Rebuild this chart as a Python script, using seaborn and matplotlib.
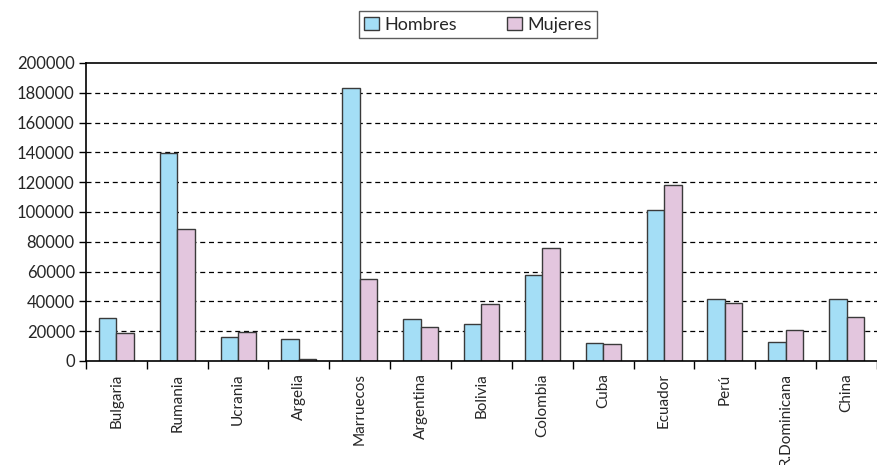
import numpy as np
import pandas as pd
import matplotlib
matplotlib.use("Agg")
import matplotlib.pyplot as plt
import seaborn as sns

paises = ['Bulgaria', 'Rumania', 'Ucrania', 'Argelia', 'Marruecos', 'Argentina',
          'Bolivia', 'Colombia', 'Cuba', 'Ecuador', 'Perú', 'R.Dominicana', 'China']
hombres = [29000, 139500, 16000, 14500, 183000, 28500, 24500, 57500, 12000, 101000, 41500, 12500, 41500]
mujeres = [19000, 88500, 19500, 1500, 55000, 23000, 38000, 75500, 11500, 118000, 39000, 21000, 29500]
series = ['Hombres', 'Mujeres']
colores = ['#A4DEF6', '#E3C6DE']

df = pd.DataFrame({
    'pais': paises * 2,
    'valor': hombres + mujeres,
    'sexo': [series[0]] * len(paises) + [series[1]] * len(paises),
})

sns.set_style('white')
plt.rcParams['font.family'] = ['Lato', 'DejaVu Sans']

fig = plt.figure(figsize=(8.77, 4.65), dpi=100)
ax = fig.add_axes([0.098, 0.2237, 0.902, 0.641])

sns.barplot(data=df, x='pais', y='valor', hue='sexo', palette=colores,
            width=0.575, edgecolor='#3a3a3a', linewidth=1.0, ax=ax,
            saturation=1, legend=False)

ax.set_ylim(0, 200000)
ax.set_xlim(-0.5, len(paises) - 0.5)
ax.set_yticks(np.arange(0, 200001, 20000))
ax.set_yticklabels([str(v) for v in range(0, 200001, 20000)], fontsize=12)
for v in range(20000, 200000, 20000):
    ax.axhline(v, color='black', lw=0.9, linestyle=(0, (4, 3)), zorder=0)

ax.set_xticks(range(len(paises)))
ax.set_xticklabels(paises, rotation=90, fontsize=11)
ax.set_xticks(np.arange(-0.5, len(paises), 1), minor=True)
ax.tick_params(axis='x', which='major', length=0, pad=9)
ax.tick_params(axis='x', which='minor', length=6, width=1, color='black', direction='out', bottom=True)
ax.tick_params(axis='y', length=5, width=1, color='black', direction='out', left=True, pad=3)
ax.set_xlabel('')
ax.set_ylabel('')

for s in ['left', 'bottom', 'top']:
    ax.spines[s].set_color('black')
    ax.spines[s].set_linewidth(1.2)
ax.spines['right'].set_visible(False)

handles = [plt.Rectangle((0, 0), 1, 1, facecolor=c, edgecolor='#3a3a3a') for c in colores]
fig.legend(handles, series, loc='center', bbox_to_anchor=(0.545, 0.947), ncol=2,
           frameon=True, fancybox=False, edgecolor='#333333', fontsize=13,
           handlelength=0.8, handleheight=0.8, handletextpad=0.3, columnspacing=2.8,
           borderpad=0.3)

fig.savefig('out.png', dpi=100)
